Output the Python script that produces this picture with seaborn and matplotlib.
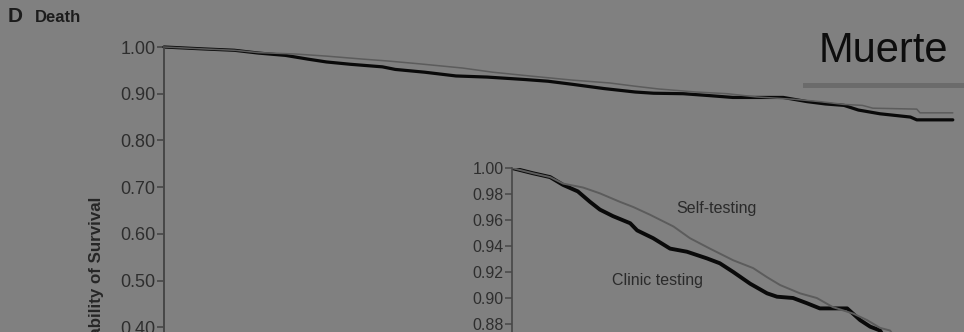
import matplotlib
matplotlib.use("Agg")
import matplotlib.pyplot as plt
import seaborn as sns
import pandas as pd
from matplotlib.patches import Rectangle

# ---- data ----
time_clinic = [0, 4.8, 8.8, 11.8, 15.2, 18, 20.3, 23.3, 27.3, 28.9, 32.6, 36.5, 40.4, 45,
               48, 51.1, 55, 58.9, 61.2, 64.9, 68.1, 71.1, 77.4, 80.4, 82.7, 85, 86.8,
               89.5, 93.3, 94.1, 98.6]
surv_clinic = [1.000, 0.996, 0.993, 0.987, 0.982, 0.974, 0.968, 0.963, 0.9575, 0.952, 0.946,
               0.938, 0.9356, 0.9305, 0.9267, 0.920, 0.911, 0.9036, 0.901, 0.900, 0.896,
               0.892, 0.892, 0.883, 0.878, 0.875, 0.865, 0.857, 0.850, 0.844, 0.844]
time_self = [0, 4.8, 8.8, 11.8, 16.4, 20.3, 24.9, 28, 31.9, 37.3, 41.1, 45.7, 51.1, 55.7,
             58.9, 61.9, 66.5, 70.4, 74.1, 78.8, 82, 85, 87.3, 88.6, 94.1, 94.5, 98.6]
surv_self = [1.000, 0.996, 0.993, 0.988, 0.985, 0.9805, 0.974, 0.970, 0.964, 0.955, 0.946,
             0.938, 0.929, 0.923, 0.916, 0.910, 0.9036, 0.900, 0.893, 0.888, 0.883, 0.877,
             0.875, 0.869, 0.867, 0.859, 0.859]

groups = ["Clinic testing", "Self-testing"]
main_ticks = [0.40, 0.50, 0.60, 0.70, 0.80, 0.90, 1.00]
inset_ticks = [0.88, 0.90, 0.92, 0.94, 0.96, 0.98, 1.00]
panel_letter = "D"
panel_title = "Death"
ylabel = "Probability of Survival"
overlay_title = "Muerte"

df = pd.concat([
    pd.DataFrame({"time": time_clinic, "surv": surv_clinic, "group": groups[0]}),
    pd.DataFrame({"time": time_self, "surv": surv_self, "group": groups[1]}),
], ignore_index=True)

# ---- style ----
sns.set_theme(style="white")
BG = "#808080"
plt.rcParams["font.family"] = ["Liberation Sans", "DejaVu Sans"]
palette = {groups[0]: "#0a0a0a", groups[1]: "#5c5c5c"}
SPINE = "#474747"
TICKC = "#2e2e2e"

W, H = 964, 332
fig = plt.figure(figsize=(W / 100, H / 100), dpi=100, facecolor=BG)

def px_axes(left, top, right, bottom):
    return [left / W, 1 - bottom / H, (right - left) / W, (bottom - top) / H]

# main axes
ax = fig.add_axes(px_axes(164, 47, 964, 332))
ax.set_facecolor("none")
sns.lineplot(data=df, x="time", y="surv", hue="group", palette=palette, estimator=None,
             sort=False, legend=False, ax=ax)
for ln, lw in zip(ax.get_lines(), [2.3, 1.1]):
    ln.set_linewidth(lw)
    ln.set_clip_on(False)
ax.set_xlim(0, 100)
ax.set_ylim(1 - 285 / 467, 1.0)
ax.set_yticks(main_ticks)
ax.set_yticklabels([f"{t:.2f}" for t in main_ticks])
ax.set_xticks([])
ax.set_xlabel("")
ax.set_ylabel("")
for s in ["top", "right", "bottom"]:
    ax.spines[s].set_visible(False)
ax.spines["left"].set_color(SPINE)
ax.spines["left"].set_linewidth(1.4)
ax.tick_params(axis="y", direction="out", length=5, width=1.2, color=SPINE,
               labelsize=13, labelcolor=TICKC, pad=1, left=True)

# inset axes
ax2 = fig.add_axes(px_axes(512, 168, 945, 332))
ax2.set_facecolor("none")
sns.lineplot(data=df, x="time", y="surv", hue="group", palette=palette, estimator=None,
             sort=False, legend=False, ax=ax2)
for ln, lw in zip(ax2.get_lines(), [2.8, 1.4]):
    ln.set_linewidth(lw)
ax2.set_xlim(0, 100)
ax2.set_ylim(1 - 164 / 1300, 1.0)
ax2.set_yticks(inset_ticks)
ax2.set_yticklabels([f"{t:.2f}" for t in inset_ticks])
ax2.set_xticks([])
ax2.set_xlabel("")
ax2.set_ylabel("")
for s in ["top", "right", "bottom"]:
    ax2.spines[s].set_visible(False)
ax2.spines["left"].set_color(SPINE)
ax2.spines["left"].set_linewidth(1.2)
ax2.tick_params(axis="y", direction="out", length=5, width=1.1, color=SPINE,
                labelsize=11.5, labelcolor=TICKC, pad=1, left=True)
ax2.text(47.3, 0.9685, groups[1], ha="center", va="center", fontsize=11.5, color="#2a2a2a")
ax2.text(33.7, 0.9138, groups[0], ha="center", va="center", fontsize=11.5, color="#2a2a2a")

# texts
fig.text(8 / W, 1 - 16.5 / H, panel_letter, fontsize=15, fontweight="bold", color="#1c1c1c",
         ha="left", va="center")
fig.text(35 / W, 1 - 18 / H, panel_title, fontsize=12, fontweight="bold", color="#1c1c1c",
         ha="left", va="center")
fig.text(96 / W, 1 - 197 / H, ylabel, rotation=90, fontsize=12.2, fontweight="bold",
         color="#262626", ha="center", va="top")
fig.text(948 / W, 1 - 62 / H, overlay_title, fontsize=30, color="#0d0d0d", ha="right",
         va="baseline")
fig.patches.append(Rectangle((803 / W, 1 - 88 / H), (W - 803) / W, 5 / H,
                             transform=fig.transFigure, color="#6b6b6b", lw=0))

fig.savefig("out.png", dpi=100, facecolor=BG)
